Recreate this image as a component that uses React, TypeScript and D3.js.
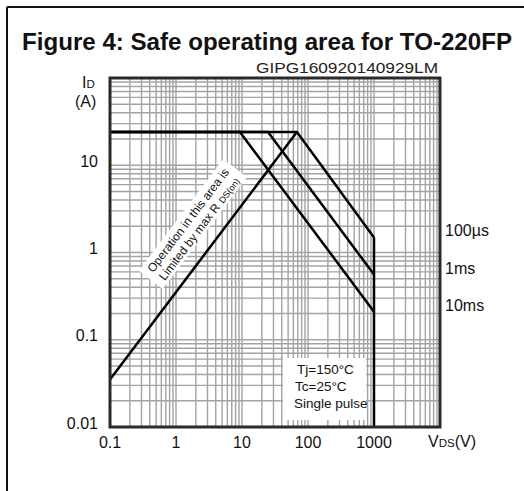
import React from "react";
import * as d3 from "d3";

// Axis ticks
const xTickValues = [0.1, 1, 10, 100, 1000];
const xTickLabels = ["0.1", "1", "10", "100", "1000"];
const yTickValues = [0.01, 0.1, 1, 10];
const yTickLabels = ["0.01", "0.1", "1", "10"];

// Safe operating area limits
const idMax = 24; // A, pulsed drain current limit
const vdss = 1000; // V, breakdown limit
const rdsLine = [
  [0.1, 0.035],
  [68, 24],
]; // RDS(on)-limited boundary
const pulseLabels = ["100µs", "1ms", "10ms"];
const pulseCornerV = [68, 24.8, 9.3]; // V where each pulse line leaves idMax
const pulseEndI = [1.49, 0.558, 0.21]; // A at vdss

const conditions = ["Tj=150°C", "Tc=25°C", "Single pulse"];

const W = 524;
const H = 491;
const FONT = "'Liberation Sans', Arial, Helvetica, sans-serif";

export default function App() {
  const left = 110;
  const right = 440;
  const top = 78;
  const bottom = 427;

  const x = d3.scaleLog().domain([0.1, 10000]).range([left, right]);
  const y = d3.scaleLog().domain([0.01, 100]).range([bottom, top]);

  const line = d3
    .line<number[]>()
    .x((d) => x(d[0]))
    .y((d) => y(d[1]));

  // Minor/major log grid lines
  const xGrid: number[] = [];
  for (let e = -1; e < 4; e++) {
    for (let k = 1; k <= 9; k++) xGrid.push(k * Math.pow(10, e));
  }
  const yGrid: number[] = [];
  for (let e = -2; e < 2; e++) {
    for (let k = 1; k <= 9; k++) yGrid.push(k * Math.pow(10, e));
  }

  // Pulse boundaries: flat at idMax, then constant-power slope down to vdss
  const pulsePaths = pulseCornerV.map((v, i) => [
    [0.1, idMax],
    [v, idMax],
    [vdss, pulseEndI[i]],
  ]);
  const vddsPath = [
    [vdss, pulseEndI[0]],
    [vdss, 0.01],
  ];

  // Rotated note along the RDS(on) boundary
  const p0 = [x(rdsLine[0][0]), y(rdsLine[0][1])];
  const p1 = [x(rdsLine[1][0]), y(rdsLine[1][1])];
  const angle = (Math.atan2(p1[1] - p0[1], p1[0] - p0[0]) * 180) / Math.PI;
  const noteCx = 193;
  const noteCy = 224;

  return (
    <svg
      width={W}
      height={H}
      style={{ position: "absolute", left: 0, top: 0, background: "#fff" }}
      fontFamily={FONT}
    >
      <rect x={0} y={0} width={W} height={H} fill="#fff" />
      {/* Figure frame */}
      <line x1={7} y1={7} x2={W} y2={7} stroke="#111" strokeWidth={2} />
      <line x1={7} y1={7} x2={7} y2={H} stroke="#111" strokeWidth={2} />

      <text
        x={22}
        y={50}
        fontSize={24.5}
        fontWeight="bold"
        fill="#111"
        textLength={490}
        lengthAdjust="spacingAndGlyphs"
      >
        Figure 4: Safe operating area for TO-220FP
      </text>
      <text
        x={256}
        y={73}
        fontSize={14.5}
        fill="#222"
        textLength={182}
        lengthAdjust="spacingAndGlyphs"
      >
        GIPG160920140929LM
      </text>

      {/* Grid */}
      <g stroke="#a3a3a3" strokeWidth={1.4}>
        {xGrid.map((v, i) => (
          <line key={"gx" + i} x1={x(v)} x2={x(v)} y1={top} y2={bottom} />
        ))}
        {yGrid.map((v, i) => (
          <line key={"gy" + i} x1={left} x2={right} y1={y(v)} y2={y(v)} />
        ))}
      </g>

      {/* Conditions box */}
      <rect x={283} y={358} width={83} height={62} fill="#fff" />
      {conditions.map((t, i) => (
        <text key={t} x={i === 0 ? 297 : i === 1 ? 295 : 294} y={374 + i * 17} fontSize={13.5} fill="#111">
          {t}
        </text>
      ))}

      {/* SOA boundaries */}
      <g fill="none" stroke="#000" strokeWidth={2.5} strokeLinejoin="miter">
        {pulsePaths.map((p, i) => (
          <path key={"p" + i} d={line(p) || ""} />
        ))}
        <path d={line(vddsPath) || ""} />
        <path d={line(rdsLine) || ""} />
      </g>

      {/* RDS(on) note */}
      <g transform={`translate(${noteCx},${noteCy}) rotate(${angle})`}>
        <rect x={-70} y={-15} width={140} height={30} fill="#fff" />
        <text x={0} y={-2} fontSize={12} textAnchor="middle" fill="#111">
          Operation in this area is
        </text>
        <text x={0} y={12} fontSize={12} textAnchor="middle" fill="#111">
          Limited by max R
          <tspan fontSize={9} dx={4}>DS(on)</tspan>
        </text>
      </g>

      {/* Plot frame */}
      <rect
        x={left}
        y={top}
        width={right - left}
        height={bottom - top}
        fill="none"
        stroke="#2a2a2a"
        strokeWidth={3}
      />

      {/* Pulse labels */}
      {pulseLabels.map((t, i) => (
        <text key={t} x={445} y={y(pulseEndI[i]) - 1} fontSize={16} fill="#111">
          {t}
        </text>
      ))}

      {/* Y axis */}
      {yTickValues.map((v, i) => (
        <text key={"yt" + i} x={98} y={y(v) + 1.5} fontSize={16} textAnchor="end" fill="#111">
          {yTickLabels[i]}
        </text>
      ))}
      <text x={82} y={88} fontSize={16} fill="#111">
        I<tspan fontSize={11.5}>D</tspan>
      </text>
      <text x={75} y={107} fontSize={16} fill="#111">
        (A)
      </text>

      {/* X axis */}
      {xTickValues.map((v, i) => (
        <text key={"xt" + i} x={x(v)} y={448} fontSize={16} textAnchor="middle" fill="#111">
          {xTickLabels[i]}
        </text>
      ))}
      <text x={428} y={447} fontSize={16} fill="#111">
        V<tspan fontSize={11.5}>DS</tspan>(V)
      </text>
    </svg>
  );
}
